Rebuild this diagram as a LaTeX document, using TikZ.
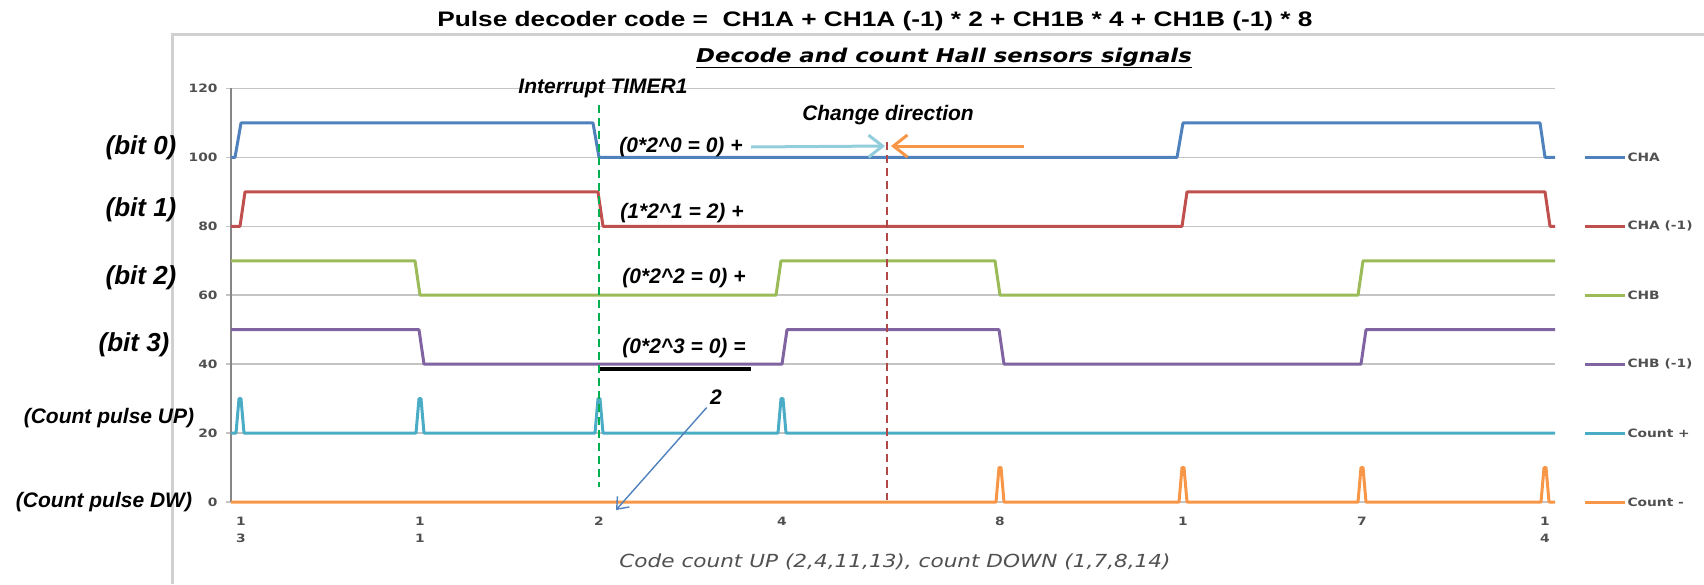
\documentclass[tikz,border=0pt]{standalone}
\usepackage{fontspec}
\setmainfont{Liberation Sans}
\newfontfamily\titlefont[FakeStretch=1.25]{Liberation Sans}
\newfontfamily\chartfont[FakeStretch=1.2]{DejaVu Sans}
\usetikzlibrary{arrows.meta}

\definecolor{cha}{HTML}{4F81BD}
\definecolor{chan}{HTML}{C0504D}
\definecolor{chb}{HTML}{9BBB59}
\definecolor{chbn}{HTML}{8064A2}
\definecolor{cntup}{HTML}{4BACC6}
\definecolor{cntdw}{HTML}{F79646}
\definecolor{gridgray}{HTML}{C4C4C4}
\definecolor{axisgray}{HTML}{868686}
\definecolor{framegray}{HTML}{D0D0D0}
\definecolor{labelgray}{HTML}{505050}
\definecolor{ltblue}{HTML}{92CDDC}
\definecolor{timergreen}{HTML}{00B050}
\definecolor{dirred}{HTML}{B04848}

\begin{document}
\begin{tikzpicture}[x=1pt,y=-1pt,
    sig/.style={line width=3pt,line join=round},
    bitlbl/.style={font=\fontsize{26}{28}\selectfont\bfseries\itshape},
    cntlbl/.style={font=\fontsize{21}{24}\selectfont\bfseries\itshape},
    note/.style={font=\fontsize{21}{24}\selectfont\bfseries\itshape},
    ticklbl/.style={font=\chartfont\fontsize{11.5}{17}\selectfont\bfseries,text=labelgray},
    leglbl/.style={font=\chartfont\fontsize{11.5}{14}\selectfont\bfseries,text=labelgray,anchor=west,inner sep=1pt}]
	\useasboundingbox (0,0) rectangle (1704,584);
	%\draw [help lines] (0,0) grid (1704,584);
	\node[font=\titlefont\fontsize{21}{24}\selectfont\bfseries] (title) at (875,21) {Pulse decoder code = \ CH1A + CH1A (-1) * 2 + CH1B * 4 + CH1B (-1) * 8};
	\draw[framegray,line width=3pt] (1704,34) -- (172,34) -- (172,584);
	\node[font=\chartfont\fontsize{19}{22}\selectfont\bfseries\itshape] (charttitle) at (944,58) {\underline{Decode and count Hall sensors signals}};

	% values: 0..120 mapped onto the plot area
	\begin{scope}[shift={(0,502)},y=3.446pt]
		\foreach \v in {0,20,...,120} {
			\draw[gridgray,line width=1.5pt] (226,\v) -- (1555,\v);
			\node[ticklbl,anchor=east] (tick\v) at (221,\v) {\v};
		}
		\draw[axisgray,line width=2.5pt] (231,0) -- (231,120);

		\draw[sig,cha] (231,100) -- (235,100) -- (241,110) -- (593,110) -- (599,100) -- (1177,100) -- (1183,110) -- (1540,110) -- (1545,100) -- (1555,100);
		\draw[sig,chan] (231,80) -- (240,80) -- (245,90) -- (598,90) -- (603,80) -- (1182,80) -- (1187,90) -- (1545,90) -- (1550,80) -- (1555,80);
		\draw[sig,chb] (231,70) -- (415,70) -- (420,60) -- (776,60) -- (781,70) -- (995,70) -- (1000,60) -- (1358,60) -- (1363,70) -- (1555,70);
		\draw[sig,chbn] (231,50) -- (419,50) -- (424,40) -- (782,40) -- (787,50) -- (999,50) -- (1004,40) -- (1361,40) -- (1366,50) -- (1555,50);
		\draw[sig,cntup] (231,20) \foreach \p in {240,420,599,782} { -- (\p-4,20) -- (\p-1,30) -- (\p+1,30) -- (\p+4,20) } -- (1555,20);
		\draw[sig,cntdw] (231,0) \foreach \p in {1000,1183,1362,1545} { -- (\p-4,0) -- (\p-1,10) -- (\p+1,10) -- (\p+4,0) } -- (1555,0);

		% legend
		\draw[sig,cha] (1585,100) -- (1625,100) node[leglbl] (legcha) {CHA};
		\draw[sig,chan] (1585,80) -- (1625,80) node[leglbl] (legchan) {CHA (-1)};
		\draw[sig,chb] (1585,60) -- (1625,60) node[leglbl] (legchb) {CHB};
		\draw[sig,chbn] (1585,40) -- (1625,40) node[leglbl] (legchbn) {CHB (-1)};
		\draw[sig,cntup] (1585,20) -- (1625,20) node[leglbl] (legup) {Count +};
		\draw[sig,cntdw] (1585,0) -- (1625,0) node[leglbl] (legdw) {Count -};
	\end{scope}

	% category labels under the plot
	\foreach \x/\c [count=\i] in {241/{1\\3},420/{1\\1},599/2,782/4,1000/8,1183/1,1362/7,1545/{1\\4}}
		\node[ticklbl,anchor=north,align=center,inner sep=0pt] (cat\i) at (\x,517) {\c};
	\node[font=\chartfont\fontsize{18}{20}\selectfont\itshape,text=labelgray] (axistitle) at (895,562) {Code count UP (2,4,11,13), count DOWN (1,7,8,14)};

	\node[bitlbl] (bit0) at (141,148) {(bit 0)};
	\node[bitlbl] (bit1) at (141,210) {(bit 1)};
	\node[bitlbl] (bit2) at (141,278) {(bit 2)};
	\node[bitlbl] (bit3) at (134,345) {(bit 3)};
	\node[cntlbl] (pulseup) at (109,418) {(Count pulse UP)};
	\node[cntlbl] (pulsedw) at (104,502) {(Count pulse DW)};

	\node[note] (timer) at (603,88) {Interrupt TIMER1};
	\draw[timergreen,line width=1.8pt,dash pattern=on 8pt off 5pt] (599,105) -- (599,487);
	\node[note] (changedir) at (888,115) {Change direction};
	\draw[dirred,line width=1.8pt,dash pattern=on 8pt off 5pt] (887,142) -- (887,500);

	\node[note] (eq0) at (681,147) {(0*2\textasciicircum 0 = 0) +};
	\node[note] (eq1) at (682,213) {(1*2\textasciicircum 1 = 2) +};
	\node[note] (eq2) at (684,278) {(0*2\textasciicircum 2 = 0) +};
	\node[note] (eq3) at (684,348) {(0*2\textasciicircum 3 = 0) =};
	\draw[line width=3.5pt] (600,369) -- (751,369);
	\node[note] (sum) at (716,397) {2};

	\coordinate (turn) at (887,146);
	\coordinate (backstart) at (1024,146);
	\coordinate (code2) at (616,510);
	\draw[ltblue,line width=3pt,-{Straight Barb[length=14pt,width=22pt]}] ([xshift=5pt]eq0.east) -- ([xshift=-2pt]turn);
	\draw[cntdw,line width=3pt,-{Straight Barb[length=14pt,width=22pt]}] (backstart) -- ([xshift=4pt]turn);
	\draw[cha,line width=1.4pt,-{Straight Barb[length=10pt,width=16pt]}] (sum) -- (code2);
\end{tikzpicture}
\end{document}
